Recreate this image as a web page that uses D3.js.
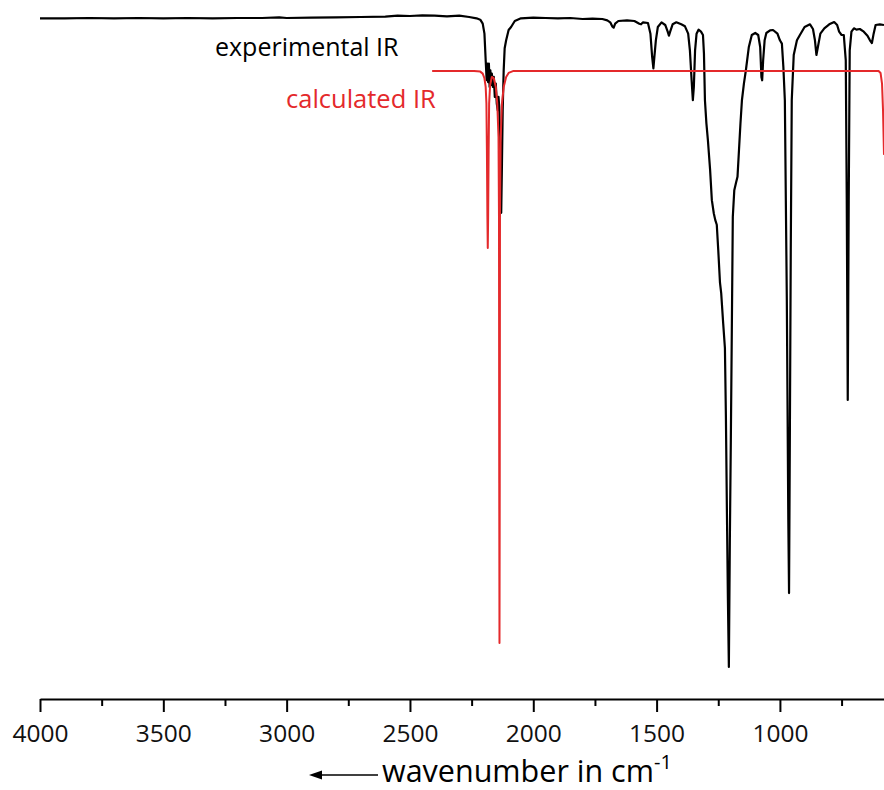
<!DOCTYPE html>
<html>
<head>
<meta charset="utf-8">
<script src="https://cdn.jsdelivr.net/npm/d3@7"></script>
<style>
  html, body { margin: 0; padding: 0; background: #fff; }
  svg { display: block; font-family: "Open Sans", "DejaVu Sans", sans-serif; }
</style>
</head>
<body>
<svg id="chart" width="884" height="790"></svg>
<script>
/* IR spectra: experimental vs calculated, wavenumber axis reversed */

// ── data ─────────────────────────────────────────
const expWn = [
  4000, 3900, 3800, 3700, 3600, 3500, 3400, 3300, 3200, 3100, 3030, 3000, 2900, 2800, 2700,
  2600, 2550, 2500, 2450, 2400, 2350, 2300, 2260, 2230, 2215, 2205, 2198, 2193, 2189, 2186,
  2183, 2180, 2177, 2174, 2171, 2168, 2164, 2160, 2156, 2152, 2148, 2144, 2141, 2138, 2134,
  2130, 2127, 2124, 2120, 2116, 2110, 2100, 2090, 2075, 2050, 2000, 1950, 1900, 1850, 1800,
  1760, 1720, 1700, 1688, 1680, 1674, 1668, 1655, 1620, 1590, 1570, 1563, 1555, 1535, 1525,
  1518, 1513, 1509, 1503, 1495, 1480, 1465, 1455, 1450, 1445, 1435, 1420, 1400, 1385, 1372,
  1365, 1358, 1353, 1349, 1344, 1338, 1330, 1320, 1312, 1308, 1304, 1298, 1292, 1288, 1283,
  1276, 1268, 1262, 1256, 1250, 1243, 1238, 1235, 1230, 1223, 1219, 1215, 1211, 1207, 1203,
  1199, 1195, 1191, 1185, 1178, 1172, 1166, 1160, 1154, 1146, 1138, 1126, 1114, 1100, 1088,
  1080, 1075, 1072, 1068, 1062, 1055, 1040, 1028, 1010, 1000, 992, 986, 980, 972, 966,
  963, 960, 956, 952, 944, 931, 919, 900, 878, 866, 858, 852, 846, 836, 820,
  800, 780, 768, 760, 750, 741, 733, 729, 725, 721, 717, 710, 700, 690, 676,
  660, 645, 635, 627, 620, 612, 595, 578
];
const expT = [
  99.8, 99.8, 99.85, 99.8, 99.85, 99.8, 99.85, 99.8, 99.85, 99.85, 99.95, 99.85, 99.9, 99.95, 100.0,
  100.05, 100.2, 100.15, 100.25, 100.2, 100.1, 100.2, 100.0, 99.8, 99.6, 99.0, 97.5, 93.5, 90.5, 93.0,
  90.2, 93.0, 89.5, 92.0, 89.8, 91.5, 89.5, 91.0, 88.0, 90.0, 87.0, 86.0, 88.0, 86.5, 80.0,
  70.6, 78.0, 86.0, 92.0, 95.3, 96.5, 98.05, 98.5, 99.4, 99.8, 99.9, 99.85, 99.8, 99.85, 99.7,
  99.75, 99.7, 99.5, 99.2, 98.6, 98.4, 99.0, 99.4, 99.5, 99.4, 99.0, 98.9, 99.2, 99.1, 97.5,
  94.0, 92.3, 94.0, 96.5, 98.5, 99.2, 98.8, 97.8, 97.2, 97.8, 98.9, 99.2, 98.9, 98.6, 97.5,
  95.0, 90.5, 87.5, 89.5, 95.0, 97.5, 98.1, 97.8, 97.3, 94.5, 87.5, 84.0, 81.5, 79.5, 77.0,
  72.5, 70.5, 69.5, 68.8, 65.0, 60.1, 58.5, 56.8, 54.0, 50.3, 40.0, 26.0, 12.9, 2.4, 21.5,
  36.5, 53.0, 70.0, 74.0, 75.1, 76.0, 80.0, 84.0, 87.5, 90.0, 92.0, 95.5, 97.3, 97.6, 97.3,
  95.5, 91.0, 90.5, 93.5, 96.5, 97.6, 98.0, 98.05, 97.5, 96.5, 96.0, 92.5, 87.5, 57.5, 24.5,
  13.5, 35.0, 65.0, 87.5, 94.3, 96.5, 97.3, 98.5, 98.9, 98.2, 96.5, 94.3, 95.5, 97.5, 98.3,
  98.9, 99.25, 98.8, 97.8, 97.3, 97.3, 93.5, 72.5, 42.5, 72.5, 95.0, 97.8, 98.3, 98.1, 98.2,
  97.8, 97.2, 96.5, 96.1, 97.5, 98.8, 98.9, 98.8
];

const calcWn = [
  2410, 2300, 2240, 2215, 2205, 2198, 2193, 2190, 2188, 2186, 2184.5, 2183, 2181, 2179, 2175,
  2168, 2160, 2152, 2146, 2141, 2139, 2138, 2137, 2136, 2135, 2132, 2127, 2120, 2110, 2100,
  2080, 1500, 1000, 600, 592, 586, 582, 578
];
const calcT = [
  91.9, 91.9, 91.9, 91.8, 91.5, 90.8, 89.5, 87.0, 80.0, 70.0, 65.3, 70.0, 80.0, 87.0, 89.8,
  91.0, 90.8, 89.5, 87.0, 82.0, 70.0, 30.0, 6.0, 30.0, 70.0, 82.0, 87.0, 89.5, 91.0, 91.6,
  91.9, 91.9, 91.9, 91.9, 91.6, 90.0, 86.0, 79.3
];

const majorTicks = [4000, 3500, 3000, 2500, 2000, 1500, 1000];
const minorTicks = [3750, 3250, 2750, 2250, 1750, 1250, 750];

const seriesLabels = ['experimental IR', 'calculated IR'];
const axisTitle = 'wavenumber in cm';
const axisTitleSup = '-1';

// ── setup ────────────────────────────────────────
const svg = d3.select('#chart');
const red = '#e4292b';

const x = d3.scaleLinear().domain([4000, 578]).range([40, 884]);
const y = d3.scaleLinear().domain([0, 100]).range([683, 17]);

const line = d3.line()
  .x(d => x(d[0]))
  .y(d => y(d[1]));

// ── spectra ──────────────────────────────────────
svg.append('path')
  .datum(d3.zip(expWn, expT))
  .attr('fill', 'none')
  .attr('stroke', '#000')
  .attr('stroke-width', 2.2)
  .attr('stroke-linejoin', 'round')
  .attr('d', line);

svg.append('path')
  .datum(d3.zip(calcWn, calcT))
  .attr('fill', 'none')
  .attr('stroke', red)
  .attr('stroke-width', 2)
  .attr('stroke-linejoin', 'round')
  .attr('d', line);

// ── labels ───────────────────────────────────────
svg.append('text')
  .attr('x', 215).attr('y', 56)
  .attr('font-size', 25)
  .attr('fill', '#000')
  .text(seriesLabels[0]);

svg.append('text')
  .attr('x', 286).attr('y', 108)
  .attr('font-size', 25.5)
  .attr('fill', red)
  .text(seriesLabels[1]);

// ── x axis ───────────────────────────────────────
const axisY = 699;

const gMajor = svg.append('g')
  .attr('transform', `translate(0,${axisY})`)
  .call(d3.axisBottom(x).tickValues(majorTicks).tickSize(13).tickSizeOuter(0).tickPadding(13).tickFormat(d3.format('d')));

gMajor.select('.domain').attr('stroke', '#000').attr('stroke-width', 2);
gMajor.selectAll('.tick line').attr('stroke', '#000').attr('stroke-width', 2);
gMajor.selectAll('.tick text')
  .attr('font-family', '"Open Sans", sans-serif')
  .attr('font-size', 24.5)
  .attr('fill', '#111');

const gMinor = svg.append('g')
  .attr('transform', `translate(0,${axisY})`)
  .call(d3.axisBottom(x).tickValues(minorTicks).tickSize(7).tickFormat(''));
gMinor.select('.domain').remove();
gMinor.selectAll('.tick line').attr('stroke', '#000').attr('stroke-width', 2);

// axis title, arrow points towards lower wavenumber... drawn on the left
const title = svg.append('text')
  .attr('x', 382).attr('y', 782)
  .attr('font-size', 30.5)
  .attr('fill', '#000');
title.append('tspan').text(axisTitle);
title.append('tspan').attr('dy', -13).attr('font-size', 20).text(axisTitleSup);

svg.append('line')
  .attr('x1', 378).attr('y1', 775)
  .attr('x2', 318).attr('y2', 775)
  .attr('stroke', '#000').attr('stroke-width', 1.5);
svg.append('path')
  .attr('d', 'M309,775 L322,770.5 L322,779.5 Z')
  .attr('fill', '#000');
</script>
</body>
</html>
